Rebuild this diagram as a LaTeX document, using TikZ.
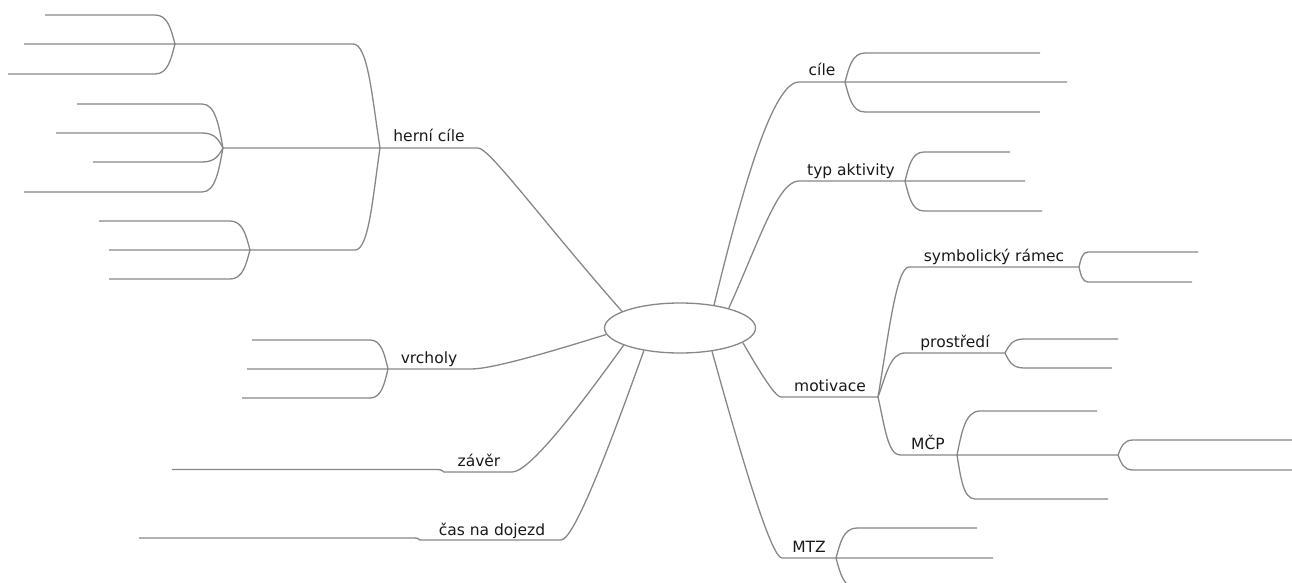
\documentclass[tikz,border=0pt]{standalone}
\usepackage{fontspec}
\setmainfont{DejaVu Sans}
\usetikzlibrary{shapes.geometric,calc}
\definecolor{lc}{RGB}{135,135,135}
\begin{document}
\begin{tikzpicture}[x=1pt,y=-1pt,
  ln/.style={draw=lc, line width=1.3pt},
  lbl/.style={anchor=base, inner sep=0pt, font=\fontsize{15.5}{18}\selectfont, text=black!90},
  ea/.store in=\edgeA, eb/.store in=\edgeB, ek/.store in=\edgeK,
  ea=0.45, eb=0.55, ek=0.85,
  edge/.style={to path={let \p1=(\tikztostart), \p2=(\tikztotarget) in
     .. controls ({\x1+\edgeA*(\x2-\x1)},{\y1+\edgeB*(\y2-\y1)}) and ({\x1+\edgeK*(\x2-\x1)},{\y2}) .. (\tikztotarget)}},
  fork/.style={ea=0.2, eb=0.5, ek=0.35, edge},
  bigfork/.style={ea=0.3, eb=0.5, ek=0.45, edge}]
\useasboundingbox (0,0) rectangle (1292,583);
\clip (0,0) rectangle (1292,583);

\node[ellipse, draw=lc, line width=1.3pt, minimum width=151pt, minimum height=50pt, inner sep=0pt] (c) at (680,328) {};

% ---------- herní cíle ----------
\coordinate (hL) at (380,148); \coordinate (hR) at (478,148);
\node[lbl] (h) at (429,142) {herní cíle};
\coordinate (h1a) at (353,44); \coordinate (h1b) at (175,44);
\coordinate (h2b) at (223,148);
\coordinate (h3a) at (355,250); \coordinate (h3b) at (250,250);
\draw[ln] (c.164) to[edge, ea=0.55, ek=0.92] (hR) -- (hL) -- (h2b);
\draw[ln] (hL) to[bigfork] (h1a) -- (h1b);
\draw[ln] (hL) to[bigfork] (h3a) -- (h3b);
% children of h1
\coordinate (h11a) at (155,15); \coordinate (h11b) at (45,15);
\coordinate (h12b) at (24,44);
\coordinate (h13a) at (155,74); \coordinate (h13b) at (8,74);
\draw[ln] (h12b) -- (h1b) to[fork] (h11a) -- (h11b);
\draw[ln] (h1b) to[fork] (h13a) -- (h13b);
% children of h2
\coordinate (h21a) at (202,104); \coordinate (h21b) at (77,104);
\coordinate (h22a) at (202,133); \coordinate (h22b) at (56,133);
\coordinate (h23a) at (202,162); \coordinate (h23b) at (93,162);
\coordinate (h24a) at (202,192); \coordinate (h24b) at (24,192);
\draw[ln] (h2b) to[fork] (h21a) -- (h21b);
\draw[ln] (h2b) to[fork] (h22a) -- (h22b);
\draw[ln] (h2b) to[fork] (h23a) -- (h23b);
\draw[ln] (h2b) to[fork] (h24a) -- (h24b);
% children of h3
\coordinate (h31a) at (230,221); \coordinate (h31b) at (99,221);
\coordinate (h32b) at (109,250);
\coordinate (h33a) at (230,279); \coordinate (h33b) at (109,279);
\draw[ln] (h32b) -- (h3b) to[fork] (h31a) -- (h31b);
\draw[ln] (h3b) to[fork] (h33a) -- (h33b);

% ---------- vrcholy ----------
\coordinate (vL) at (388,369); \coordinate (vR) at (471,369);
\node[lbl] (v) at (429,363) {vrcholy};
\coordinate (v1a) at (370,340); \coordinate (v1b) at (252,340);
\coordinate (v2b) at (247,369);
\coordinate (v3a) at (370,398); \coordinate (v3b) at (242,398);
\draw[ln] (c.185) to[edge] (vR) -- (vL) -- (v2b);
\draw[ln] (vL) to[fork] (v1a) -- (v1b);
\draw[ln] (vL) to[fork] (v3a) -- (v3b);

% ---------- závěr ----------
\coordinate (zL) at (444,472); \coordinate (zR) at (512,472);
\node[lbl] (z) at (479,466) {závěr};
\coordinate (z1a) at (437,469.5); \coordinate (z1b) at (172,469.5);
\draw[ln] (c.197) to[edge] (zR) -- (zL) to[fork] (z1a) -- (z1b);

% ---------- čas na dojezd ----------
\coordinate (dL) at (420,540); \coordinate (dR) at (561,540);
\node[lbl] (d) at (492,535) {čas na dojezd};
\coordinate (d1a) at (414,538); \coordinate (d1b) at (139,538);
\draw[ln] (c.212) to[edge] (dR) -- (dL) to[fork] (d1a) -- (d1b);

% ---------- cíle ----------
\coordinate (ciL) at (799,82); \coordinate (ciR) at (845,82);
\node[lbl] (ci) at (822,76) {cíle};
\coordinate (ci1a) at (865,53); \coordinate (ci1b) at (1040,53);
\coordinate (ci2b) at (1067,82);
\coordinate (ci3a) at (865,112); \coordinate (ci3b) at (1040,112);
\draw[ln] (c.34) to[edge, ea=0.35, ek=0.7] (ciL) -- (ciR) -- (ci2b);
\draw[ln] (ciR) to[fork] (ci1a) -- (ci1b);
\draw[ln] (ciR) to[fork] (ci3a) -- (ci3b);

% ---------- typ aktivity ----------
\coordinate (tL) at (799,181); \coordinate (tR) at (905,181);
\node[lbl] (t) at (851,175) {typ aktivity};
\coordinate (t1a) at (924,152); \coordinate (t1b) at (1010,152);
\coordinate (t2b) at (1025,181);
\coordinate (t3a) at (924,211); \coordinate (t3b) at (1042,211);
\draw[ln] (c.22) to[edge, ek=0.7] (tL) -- (tR) -- (t2b);
\draw[ln] (tR) to[fork] (t1a) -- (t1b);
\draw[ln] (tR) to[fork] (t3a) -- (t3b);

% ---------- motivace ----------
\coordinate (mL) at (781,397); \coordinate (mR) at (878,397);
\node[lbl] (m) at (830,391) {motivace};
\draw[ln] (c.347) to[edge] (mL) -- (mR);
% symbolický rámec
\coordinate (sL) at (909,267); \coordinate (sR) at (1079,267);
\node[lbl] (s) at (994,261) {symbolický rámec};
\draw[ln] (mR) to[bigfork, ea=0.35, ek=0.6] (sL) -- (sR);
\coordinate (s1a) at (1088,252); \coordinate (s1b) at (1198,252);
\coordinate (s2a) at (1088,282); \coordinate (s2b) at (1192,282);
\draw[ln] (sR) to[fork] (s1a) -- (s1b);
\draw[ln] (sR) to[fork] (s2a) -- (s2b);
% prostředí
\coordinate (pL) at (905,353); \coordinate (pR) at (1005,353);
\node[lbl] (p) at (955,347) {prostředí};
\draw[ln] (mR) to[bigfork] (pL) -- (pR);
\coordinate (p1a) at (1024,339); \coordinate (p1b) at (1118,339);
\coordinate (p2a) at (1024,368); \coordinate (p2b) at (1112,368);
\draw[ln] (pR) to[fork] (p1a) -- (p1b);
\draw[ln] (pR) to[fork] (p2a) -- (p2b);
% MČP
\coordinate (qL) at (900,455); \coordinate (qR) at (957,455);
\node[lbl] (q) at (928,449) {MČP};
\draw[ln] (mR) to[bigfork] (qL) -- (qR);
\coordinate (q1a) at (980,411); \coordinate (q1b) at (1097,411);
\coordinate (q2b) at (1118,455);
\coordinate (q3a) at (975,499); \coordinate (q3b) at (1108,499);
\draw[ln] (qR) to[fork] (q1a) -- (q1b);
\draw[ln] (qR) to[fork] (q3a) -- (q3b);
\coordinate (q21a) at (1133,440); \coordinate (q21b) at (1300,440);
\coordinate (q22a) at (1133,470); \coordinate (q22b) at (1300,470);
\draw[ln] (qR) -- (q2b) to[fork] (q21a) -- (q21b);
\draw[ln] (q2b) to[fork] (q22a) -- (q22b);

% ---------- MTZ ----------
\coordinate (xL) at (782,558); \coordinate (xR) at (836,558);
\node[lbl] (x) at (809,552) {MTZ};
\coordinate (x1a) at (857,528); \coordinate (x1b) at (977,528);
\coordinate (x2b) at (993,558);
\coordinate (x3a) at (857,588); \coordinate (x3b) at (977,588);
\draw[ln] (c.324) to[edge] (xL) -- (xR) -- (x2b);
\draw[ln] (xR) to[fork] (x1a) -- (x1b);
\draw[ln] (xR) to[fork] (x3a) -- (x3b);
\end{tikzpicture}
\end{document}
